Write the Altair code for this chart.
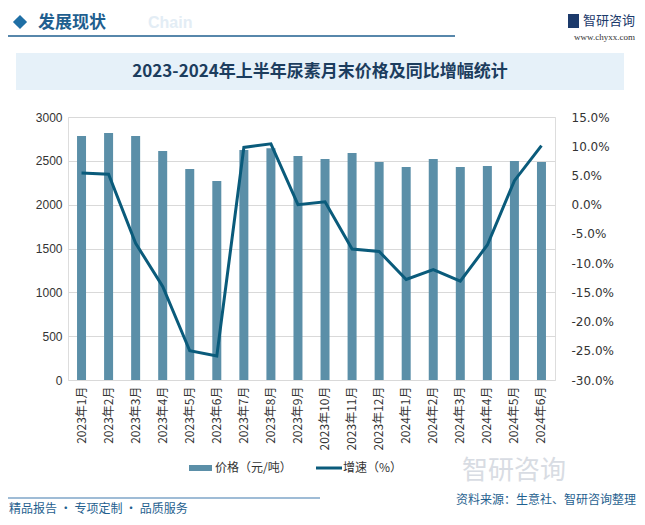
import altair as alt
import pandas as pd

months = ["2023年1月", "2023年2月", "2023年3月", "2023年4月", "2023年5月", "2023年6月",
          "2023年7月", "2023年8月", "2023年9月", "2023年10月", "2023年11月", "2023年12月",
          "2024年1月", "2024年2月", "2024年3月", "2024年4月", "2024年5月", "2024年6月"]
price = [2783, 2817, 2783, 2612, 2407, 2270, 2624, 2643, 2555, 2521, 2589, 2487,
         2430, 2521, 2430, 2441, 2498, 2487]
growth = [5.4, 5.2, -6.6, -14.0, -25.0, -25.9, 9.8, 10.4, 0.0, 0.5, -7.6, -8.0,
          -12.8, -11.1, -13.1, -6.9, 4.1, 10.1]

df = pd.DataFrame({"month": months, "price": price, "growth": growth})

BAR = "#5b8fa8"
LINE = "#0a5b7b"
BLUE = "#1f5f8f"
FONT = "Noto Sans CJK SC"
W, H = 487, 263

xenc = alt.X("month:N", sort=None, title=None,
             axis=alt.Axis(labelAngle=-90, labelAlign="right", labelBaseline="middle",
                           labelFontSize=12, labelColor="#333333", labelFont=FONT,
                           domain=False, ticks=False, labelPadding=6))

bars = alt.Chart(df).mark_bar(size=9, color=BAR).encode(
    x=xenc,
    y=alt.Y("price:Q", title=None, scale=alt.Scale(domain=[0, 3000]),
            axis=alt.Axis(values=[0, 500, 1000, 1500, 2000, 2500, 3000], grid=True,
                          gridColor="#d9d9d9", domain=False, ticks=False, format="d",
                          labelFontSize=12, labelColor="#333333", labelPadding=6,
                          labelFont="Liberation Sans")),
)

line = alt.Chart(df).mark_line(color=LINE, strokeWidth=3).encode(
    x=alt.X("month:N", sort=None),
    y=alt.Y("growth:Q", title=None, scale=alt.Scale(domain=[-30, 15]),
            axis=alt.Axis(orient="right", values=[-30, -25, -20, -15, -10, -5, 0, 5, 10, 15],
                          grid=False, domain=False, ticks=False, labelFontSize=12,
                          labelColor="#333333", labelPadding=16, labelFont="DejaVu Sans",
                          labelExpr="replace(format(datum.value, '.1f'), '\u2212', '-') + '%'")),
)

main = alt.layer(bars, line).resolve_scale(y="independent")

one = pd.DataFrame({"a": [0]})
base = alt.Chart(one)

def txt(s, x, y, size=12, color="#333333", weight="normal", align="left", font=FONT, opacity=1):
    return base.mark_text(text=s, fontSize=size, color=color, fontWeight=weight, align=align,
                          baseline="middle", font=font, opacity=opacity).encode(
        x=alt.value(x), y=alt.value(y))

def rule(x1, x2, y, color, width):
    return base.mark_rule(color=color, strokeWidth=width).encode(
        x=alt.value(x1), x2=alt.value(x2), y=alt.value(y))

ox, oy = 68, 117  # plot origin on page

deco = [
    # watermark logo near legend
    txt("智研咨询", 514 - ox, 471 - oy, size=26, color="#d8dce3", align="center"),
    # title box
    base.mark_rect(color="#e6f1f9").encode(x=alt.value(16 - ox), x2=alt.value(624 - ox),
                                           y=alt.value(53 - oy), y2=alt.value(90 - oy)),
    txt("2023-2024年上半年尿素月末价格及同比增幅统计", 320 - ox, 72 - oy, size=17,
        color="#1c3d5e", weight="bold", align="center"),
    # header
    base.mark_point(shape="diamond", filled=True, color="#1f6fa5", size=200, opacity=1).encode(
        x=alt.value(20 - ox), y=alt.value(22 - oy)),
    txt("Chain", 148 - ox, 23 - oy, size=16, color="#e3edf5", weight="bold", align="left",
        font="Liberation Sans"),
    txt("发展现状", 38 - ox, 23 - oy, size=17, color=BLUE, weight="bold"),
    rule(8 - ox, 455 - ox, 36 - oy, BLUE, 1.5),
    txt("智研咨询", 635 - ox, 21 - oy, size=13, color="#1c3a6b", align="right"),
    base.mark_rect(color="#1c3a6b").encode(x=alt.value(568 - ox), x2=alt.value(579 - ox),
                                            y=alt.value(14 - oy), y2=alt.value(28 - oy)),
    txt("www.chyxx.com", 635 - ox, 37 - oy, size=9, color="#333333", align="right",
        font="Liberation Serif"),
    # legend
    rule(189 - ox, 212 - ox, 468 - oy, BAR, 6),
    txt("价格（元/吨）", 215 - ox, 468 - oy, size=12, color="#333333"),
    rule(316 - ox, 342 - ox, 468 - oy, LINE, 3),
    txt("增速（%）", 343 - ox, 468 - oy, size=12, color="#333333"),
    # footer
    rule(8 - ox, 320 - ox, 498 - oy, "#7fa6c8", 1.5),
    txt("精品报告 · 专项定制 · 品质服务", 9 - ox, 509 - oy, size=12, color=BLUE),
    txt("资料来源：生意社、智研咨询整理", 636 - ox, 500 - oy, size=12, color=BLUE, align="right"),
]

chart = alt.layer(main, *deco).properties(
    width=W, height=H,
    autosize=alt.AutoSizeParams(type="none"),
    padding={"left": 60, "top": 109, "right": 82, "bottom": 137},
).configure_view(stroke=None).configure(background="white")

chart.save("out.html", embed_options={"renderer": "svg", "actions": False})
